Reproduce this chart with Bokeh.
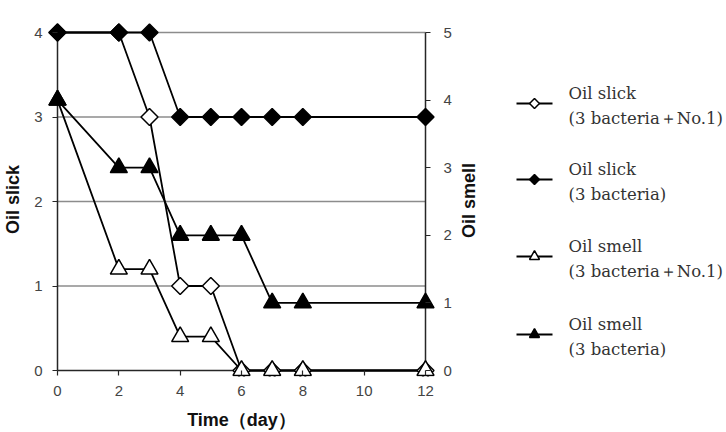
import numpy as np
from bokeh.plotting import figure
from bokeh.layouts import row
from bokeh.models import Range1d, LinearAxis, FixedTicker
from bokeh.core.properties import value
from bokeh.embed import file_html
from bokeh.resources import INLINE

days = [0, 2, 3, 4, 5, 6, 7, 8, 12]
slick_no1 = [4, 4, 3, 1, 1, 0, 0, 0, 0]
slick_3b = [4, 4, 4, 3, 3, 3, 3, 3, 3]
smell_no1 = [4, 1.5, 1.5, 0.5, 0.5, 0, 0, 0, 0]
smell_3b = [4, 3, 3, 2, 2, 2, 1, 1, 1]
x_ticks = [0, 2, 4, 6, 8, 10, 12]
slick_ticks = [0, 1, 2, 3, 4]
smell_ticks = [0, 1, 2, 3, 4, 5]
x_label = "Time\uff08day\uff09"
y_label_left = "Oil slick"
y_label_right = "Oil smell"
legend_line1 = ["Oil slick", "Oil slick", "Oil smell", "Oil smell"]
legend_line2 = ["(3 bacteria\uff0bNo.1)", "(3 bacteria)", "(3 bacteria\uff0bNo.1)", "(3 bacteria)"]

# ---- styling / layout -------------------------------------------------
W1, H = 460, 432
PAD = 10                                   # frame margin around the data so edge markers are whole
PADB = 6                                   # smaller margin at the bottom (triangles' bases)
X0PX, X1PX, Y0PX, Y1PX = 57, 425, 370, 32  # pixel edges of the data area
FL, FR, FT, FB = X0PX - PAD, X1PX + PAD, Y1PX - PAD, Y0PX + PADB
xs = (X1PX - X0PX) / (x_ticks[-1] - x_ticks[0])
ys_l = (Y0PX - Y1PX) / (slick_ticks[-1] - slick_ticks[0])
ys_r = (Y0PX - Y1PX) / (smell_ticks[-1] - smell_ticks[0])

ax_color = "#262626"
tick_font = "Liberation Sans"

p = figure(width=W1, height=H,
           x_range=Range1d(x_ticks[0] - PAD / xs, x_ticks[-1] + PAD / xs),
           y_range=Range1d(slick_ticks[0] - PADB / ys_l, slick_ticks[-1] + PAD / ys_l),
           output_backend="svg", toolbar_location=None,
           min_border_left=FL, min_border_right=W1 - FR,
           min_border_top=FT, min_border_bottom=H - FB)
p.outline_line_color = None
p.background_fill_color = "white"
p.border_fill_color = "white"
p.extra_y_ranges = {"smell": Range1d(smell_ticks[0] - PADB / ys_r, smell_ticks[-1] + PAD / ys_r)}
p.xgrid.visible = False
p.ygrid.visible = False

def style_axis(ax, standoff, pad):
    ax.axis_line_color = None
    ax.major_tick_line_color = ax_color
    ax.major_tick_line_width = 1.2
    # ticks sit just outside the data edge, which is `pad` px inside the frame
    ax.major_tick_in = pad
    ax.major_tick_out = -(pad - 5)
    ax.minor_tick_line_color = None
    ax.major_label_text_font = tick_font
    ax.major_label_text_font_size = "15px"
    ax.major_label_text_color = "#444444"
    ax.major_label_standoff = standoff
    ax.axis_label_text_font = "Liberation Sans"
    ax.axis_label_text_font_style = "bold"
    ax.axis_label_text_font_size = "18px"
    ax.axis_label_text_color = "#111111"

p.xaxis.ticker = FixedTicker(ticks=x_ticks)
p.xaxis.axis_label = x_label
style_axis(p.xaxis[0], 9, PADB)
p.xaxis.axis_label_standoff = 11
p.yaxis.ticker = FixedTicker(ticks=slick_ticks)
p.yaxis.axis_label = y_label_left
style_axis(p.yaxis[0], 5, PAD)
p.yaxis.axis_label_standoff = 8

ax_r = LinearAxis(y_range_name="smell", ticker=FixedTicker(ticks=smell_ticks))
style_axis(ax_r, 8, PAD)
p.add_layout(ax_r, "right")

# horizontal gridlines across the data span
grid_y = slick_ticks[1:]
p.segment(x0=[x_ticks[0]] * len(grid_y), x1=[x_ticks[-1]] * len(grid_y), y0=grid_y, y1=grid_y,
          line_color="#8c8c8c", line_width=1.5)
# axis rules at the data edges
p.segment(x0=[x_ticks[0]], x1=[x_ticks[-1]], y0=[slick_ticks[0]], y1=[slick_ticks[0]],
          line_color=ax_color, line_width=1.5)
p.segment(x0=[x_ticks[0]], x1=[x_ticks[0]], y0=[slick_ticks[0]], y1=[slick_ticks[-1]],
          line_color=ax_color, line_width=1.5)
p.segment(x0=[x_ticks[-1]], x1=[x_ticks[-1]], y0=[smell_ticks[0]], y1=[smell_ticks[-1]],
          line_color=ax_color, line_width=1.5, y_range_name="smell")

series = [
    (slick_no1, "default", "square", np.pi / 4, 12, "white"),
    (slick_3b, "default", "square", np.pi / 4, 12, "black"),
    (smell_no1, "smell", "triangle", 0, 17, "white"),
    (smell_3b, "smell", "triangle", 0, 17, "black"),
]
for vals, rng, mk, ang, sz, fill in series:
    p.line(days, vals, line_color="black", line_width=1.8, y_range_name=rng)
for vals, rng, mk, ang, sz, fill in series:
    p.scatter(days, vals, marker=mk, angle=ang, size=sz, fill_color=fill,
              line_color="black", line_width=1.5, y_range_name=rng)

# ---- legend panel (right); its frame is aligned with the main frame ----
W2 = 726 - W1
q = figure(width=W2, height=H, x_range=Range1d(W1, 726), y_range=Range1d(FB, FT),
           output_backend="svg", toolbar_location=None,
           x_axis_location=None, y_axis_location=None,
           min_border_left=0, min_border_right=0,
           min_border_top=FT, min_border_bottom=H - FB)
q.outline_line_color = None
q.grid.visible = False
q.background_fill_color = "white"
q.border_fill_color = "white"

q.text(x=[468], y=[200], text=[y_label_right], angle=np.pi / 2,
       text_font=value("Liberation Sans"), text_font_style="bold", text_font_size="18px",
       text_color="#111111", text_align="center", text_baseline="middle")

gy = [103, 179, 256, 334]
leg_styles = [("square", np.pi / 4, 7, "white"), ("square", np.pi / 4, 7, "black"),
              ("triangle", 0, 10, "white"), ("triangle", 0, 10, "black")]
q.segment(x0=[516] * 4, x1=[552] * 4, y0=gy, y1=gy, line_color="black", line_width=2)
for (mk, ang, sz, fill), y in zip(leg_styles, gy):
    q.scatter([534], [y], marker=mk, angle=ang, size=sz, fill_color=fill,
              line_color="black", line_width=1.5)
q.text(x=[568] * 4, y=[g - 10 for g in gy], text=legend_line1,
       text_font=value("DejaVu Serif"), text_font_size="16.5px", text_color="#333333",
       text_align="left", text_baseline="middle")
q.text(x=[568] * 4, y=[g + 15 for g in gy], text=legend_line2,
       text_font=value("DejaVu Serif"), text_font_size="16.5px", text_color="#333333",
       text_align="left", text_baseline="middle")

open("out.html", "w").write(file_html(row(p, q), INLINE))
